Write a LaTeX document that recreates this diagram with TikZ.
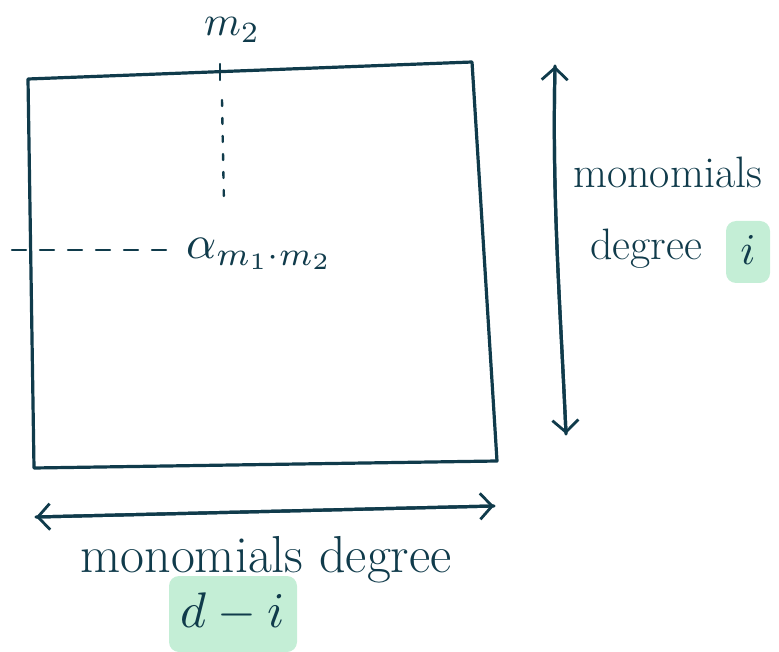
\documentclass[tikz,border=0pt]{standalone}
\usepackage{graphicx}
\usetikzlibrary{arrows.meta}
\definecolor{ink}{HTML}{103B4B}
\definecolor{hl}{HTML}{C4EED6}
\newcommand\mscale[2]{\scalebox{#1}{$#2$}}
\tikzset{
  pen/.style={draw=ink, line width=3.2pt, line cap=round, line join=round},
  thin/.style={draw=ink, line width=2.4pt, line cap=round},
  lbl/.style={text=ink, inner sep=0pt, font=\fontsize{44}{48}\selectfont},
  big/.style={text=ink, inner sep=0pt, font=\fontsize{52}{56}\selectfont},
  mth/.style={text=ink, inner sep=0pt, font=\fontsize{10}{12}\selectfont},
  hlbox/.style={fill=hl, rounded corners=10pt, draw=none},
  tip/.style={-{Straight Barb[length=12pt,width=26pt,line width=2.8pt]}}
}
\begin{document}
\begin{tikzpicture}[x=1pt,y=-1pt]
\useasboundingbox (0,0) rectangle (779,652);
% square
\coordinate (tl) at (28,79);
\coordinate (tr) at (472,62);
\coordinate (br) at (497,461);
\coordinate (bl) at (34,468);
\draw[pen] (tl) -- (tr) -- (br) -- (bl) -- cycle;
% m2 label and dotted line
\node[mth] (m2) at (232,30) {\mscale{4.2}{m_2}};
\coordinate (d2) at (224,205);
\draw[thin] (220,64) -- (220,80);
\draw[thin, dash pattern=on 6pt off 12pt] (222,100) -- (d2);
% alpha
\node[mth, anchor=west] (alpha) at (186,254) {\mscale{4.7}{\alpha_{m_1\cdot m_2}}};
\coordinate (h1) at (12,250);
\coordinate (h2) at (166,250);
\draw[thin, dash pattern=on 14pt off 14pt] (h1) -- (h2);
% vertical arrow
\coordinate (vt) at (555,66);
\coordinate (vb) at (566,434);
\draw[pen, tip] (vb) .. controls (560,300) and (552,200) .. (vt);
\draw[pen, tip] (vt) .. controls (552,200) and (560,300) .. (vb);
% right labels
\node[lbl, anchor=west] (mono1) at (573,172) {monomials};
\node[hlbox, minimum width=44pt, minimum height=62pt] (ibox) at (748,252) {};
\node[lbl, anchor=base west] (deg1) at (590,260) {degree};
\node[mth] (i1) at (748,250) {\mscale{4.4}{i}};
% horizontal arrow
\coordinate (hl) at (36,517);
\coordinate (hr) at (494,506);
\draw[pen, tip] (hr) -- (hl);
\draw[pen, tip] (hl) -- (hr);
% bottom labels
\node[big, anchor=base] (mono2) at (266,572) {monomials degree};
\node[hlbox, minimum width=128pt, minimum height=76pt] (dbox) at (233,614) {};
\node[mth] (di) at (233,612) {\mscale{5}{d-i}};
\end{tikzpicture}
\end{document}
